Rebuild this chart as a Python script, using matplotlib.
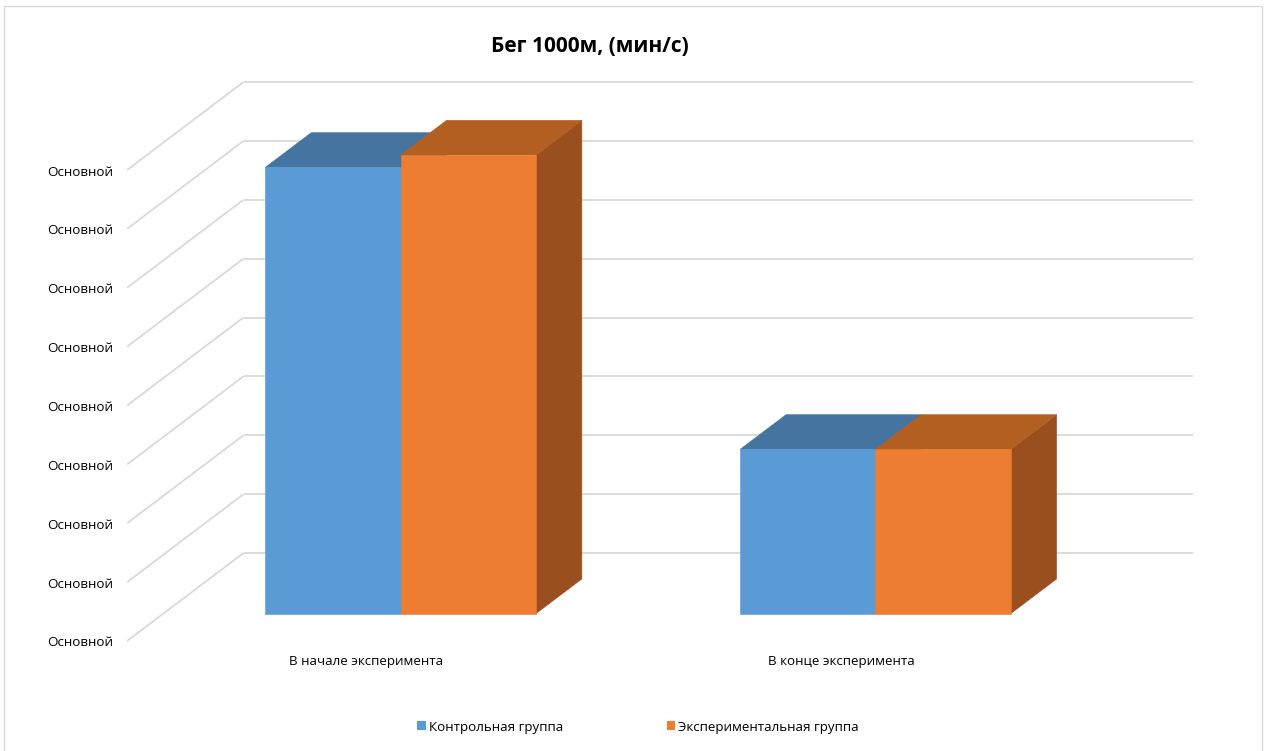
import matplotlib
matplotlib.use('Agg')
import matplotlib.pyplot as plt
from matplotlib.patches import Polygon, Rectangle, Patch

# ---------------- data ----------------
categories = ['В начале эксперимента', 'В конце эксперимента']
series_names = ['Контрольная группа', 'Экспериментальная группа']
control = [7.58, 2.79]
experimental = [7.79, 2.79]
y_ticks = [0, 1, 2, 3, 4, 5, 6, 7, 8]
y_tick_labels = ['Основной'] * 9
title = 'Бег 1000м, (мин/с)'

# ---------------- style ----------------
FONT = ['Open Sans', 'DejaVu Sans']
plt.rcParams['font.family'] = FONT
front_cols = ['#5B9BD5', '#ED7D31']
top_cols = ['#44749F', '#B45F22']
side_cols = ['#3F6C95', '#9A4F1E']
grid_col = '#D9D9D9'
text_col = '#000000'
FS = 9.6

W, H = 1268, 751
fig = plt.figure(figsize=(W / 100, H / 100), dpi=100)
fig.patch.set_facecolor('white')

# back wall of the 3-D box
left_px, right_px, top_px, bottom_px = 243.5, 1193, 82, 553
ax = fig.add_axes([left_px / W, 1 - bottom_px / H,
                   (right_px - left_px) / W, (bottom_px - top_px) / H])
ax.set_xlim(0, len(categories))
ax.set_ylim(y_ticks[0], y_ticks[-1])
ax.axis('off')

# oblique depth vector (back -> front) in data units
px_per_x = (right_px - left_px) / len(categories)
px_per_y = (bottom_px - top_px) / (y_ticks[-1] - y_ticks[0])
DX = -116.4 / px_per_x
DY = -88.0 / px_per_y

# gridlines: back wall + left side wall
for yv in y_ticks:
    ax.plot([0, len(categories)], [yv, yv], color=grid_col, lw=1.3,
            solid_capstyle='butt', zorder=1, clip_on=False)
    ax.plot([0, DX], [yv, yv + DY], color=grid_col, lw=1.3,
            solid_capstyle='butt', zorder=1, clip_on=False)

# bars
bar_w = 0.285
f_back, f_front = 0.295, 0.69
z = 3
for ci, c in enumerate([0.5 + i for i in range(len(categories))]):
    for si, vals in enumerate([control, experimental]):
        v = vals[ci]
        x0 = c - bar_w + si * bar_w
        x1 = x0 + bar_w
        fx, fy = f_front * DX, f_front * DY
        bx, by = f_back * DX, f_back * DY
        side = [(x1 + fx, fy), (x1 + bx, by), (x1 + bx, v + by), (x1 + fx, v + fy)]
        top = [(x0 + fx, v + fy), (x1 + fx, v + fy), (x1 + bx, v + by), (x0 + bx, v + by)]
        front = [(x0 + fx, fy), (x1 + fx, fy), (x1 + fx, v + fy), (x0 + fx, v + fy)]
        for pts, col in ((side, side_cols[si]), (top, top_cols[si]), (front, front_cols[si])):
            ax.add_patch(Polygon(pts, closed=True, facecolor=col, edgecolor=col,
                                 lw=0.4, zorder=z, clip_on=False))
            z += 1

# value-axis labels at the front ends of the side-wall gridlines
for yv, lab in zip(y_ticks, y_tick_labels):
    ax.annotate(lab, xy=(DX, yv + DY), xytext=(-14, -2), textcoords='offset pixels',
                ha='right', va='center', fontsize=FS, color=text_col,
                annotation_clip=False)

# category labels below the front edge of the floor
for ci, cat in enumerate(categories):
    ax.annotate(cat, xy=(0.5 + ci + DX, DY), xytext=(2, -21), textcoords='offset pixels',
                ha='center', va='center', fontsize=FS, color=text_col,
                annotation_clip=False)

# title
fig.text(589.5 / W, 1 - 46 / H, title, ha='center', va='center',
         fontsize=15, fontweight='bold', color=text_col)

# legend
handles = [Patch(facecolor=front_cols[i], edgecolor='none', label=series_names[i])
           for i in range(len(series_names))]
fig.legend(handles=handles, loc='center', bbox_to_anchor=(638 / W, 1 - 727 / H),
           ncol=2, frameon=False, fontsize=FS, handlelength=0.62, handleheight=0.62,
           handletextpad=0.22, columnspacing=7.8, labelcolor=text_col)

# outer chart border
fig.add_artist(Rectangle((3.5 / W, -0.05), (1262 - 3.5) / W, 1.05 - 6 / H,
                         transform=fig.transFigure, fill=False,
                         edgecolor=grid_col, lw=1.0))

fig.savefig('out.png', dpi=100, facecolor='white')
